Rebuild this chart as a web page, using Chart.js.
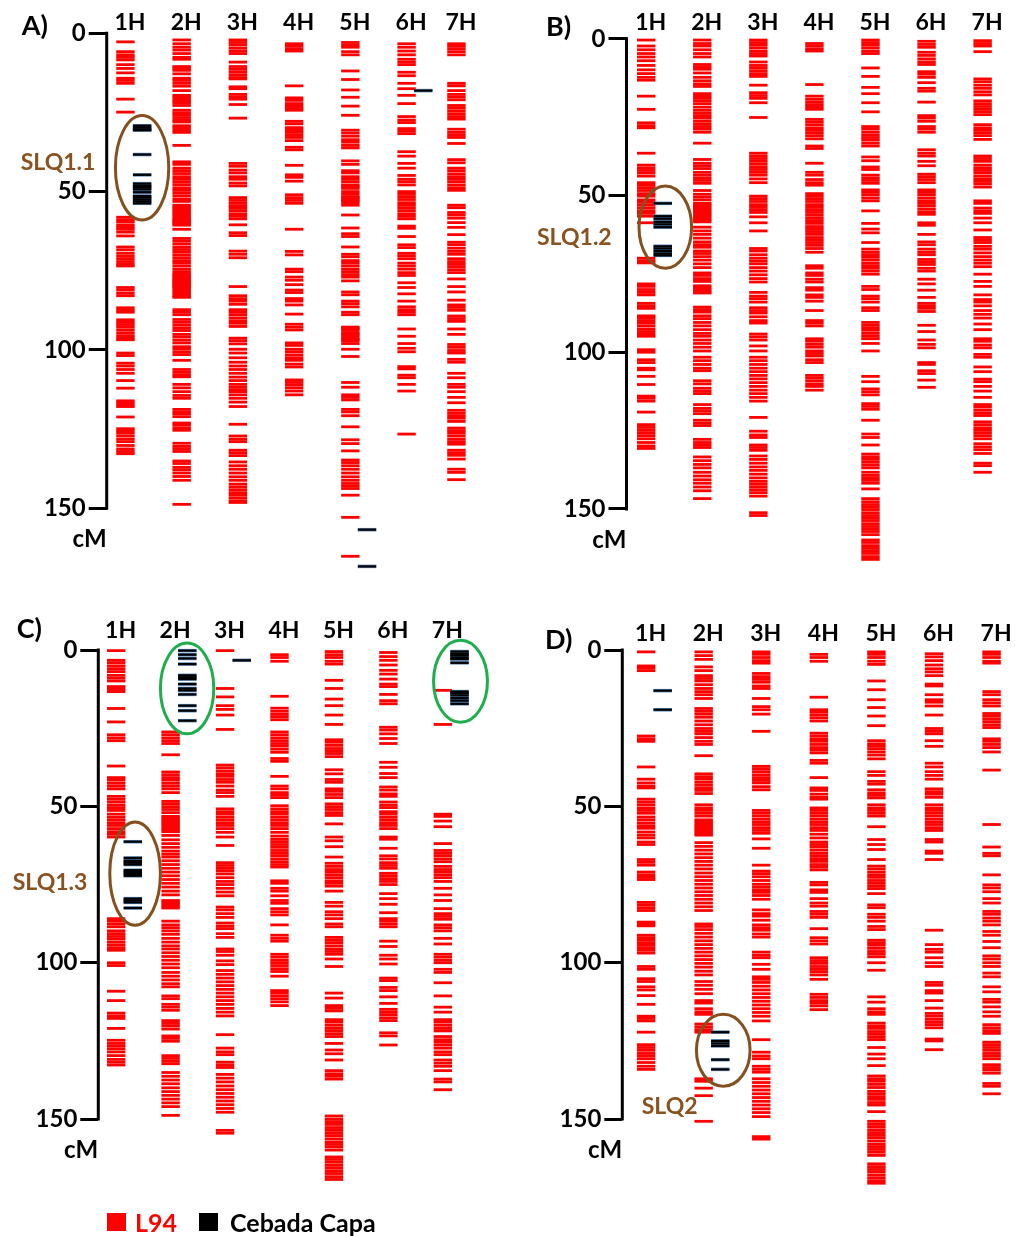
<!DOCTYPE html>
<html>
<head>
<meta charset="utf-8">
<title>Genetic maps L94 × Cebada Capa</title>
<script src="https://cdn.jsdelivr.net/npm/chart.js"></script>
<style>
  html, body { margin: 0; padding: 0; background: #fff; }
  #page { position: relative; width: 1015px; height: 1236px; overflow: hidden; font-family: Lato, "Open Sans", sans-serif; }
  #page canvas { position: absolute; }
  .txt { position: absolute; font-weight: 700; line-height: 1; white-space: nowrap; transform: translateY(-50%); }
  .panel-tag { font-size: 27px; color: #000; }
  .qtl-tag { font-size: 23px; color: #8a5220; }
  .key-box { position: absolute; width: 19px; height: 18px; }
  .key-txt { font-size: 25px; }
</style>
</head>
<body>
<div id="page">
  <div class="txt panel-tag" style="left:21.7px; top:24.4px;">A)</div>
  <div class="txt panel-tag" style="left:546px; top:25px;">B)</div>
  <div class="txt panel-tag" style="left:16.7px; top:627px;">C)</div>
  <div class="txt panel-tag" style="left:545px; top:638px;">D)</div>

  <div class="txt qtl-tag" style="left:20.7px; top:161px;">SLQ1.1</div>
  <div class="txt qtl-tag" style="left:537px; top:235.7px;">SLQ1.2</div>
  <div class="txt qtl-tag" style="left:12.7px; top:881px;">SLQ1.3</div>
  <div class="txt qtl-tag" style="left:641.7px; top:1105px;">SLQ2</div>

  <div class="key-box" style="left:106.7px; top:1213px; background:#ff0000;"></div>
  <div class="txt key-txt" style="left:135px; top:1222px; color:#ff0000;">L94</div>
  <div class="key-box" style="left:199.3px; top:1213px; background:#000;"></div>
  <div class="txt key-txt" style="left:230px; top:1222px; color:#000;">Cebada Capa</div>
</div>

<script>
// ---- chromosome names and axis ticks ----
const chromosomes = ['1H', '2H', '3H', '4H', '5H', '6H', '7H'];
const cmTicks = [0, 50, 100, 150];

// ---- marker positions (cM) carrying the L94 allele / the Cebada Capa allele ----
// Panel A
const A_1H = [2.7,5.8,6.8,7.6,8.4,9.9,11.1,12.5,14.2,14.9,15.8,20.8,24.9,58.1,58.9,59.5,60.5,61.3,61.9,62.8,64.0,67.5,68.4,69.5,70.4,71.2,72.1,73.0,73.5,80.3,81.1,82.1,82.9,86.7,87.5,88.1,90.5,91.3,92.0,92.8,93.7,94.6,95.5,96.2,96.8,101.0,101.8,104.2,105.1,106.2,107.4,109.7,112.1,116.1,116.7,117.4,117.9,121.2,124.9,125.6,126.3,127.2,128.2,129.0,130.2,131.3,132.1,132.8];
const A_1H_capa = [29.2,29.8,30.4,30.6,38.3,44.7,47.5,48.2,48.7,49.3,50.2,51.4,51.9,52.5,53.1,53.7];
const A_2H = [2.1,3.3,4.4,5.3,6.4,7.6,8.2,10.5,11.1,11.7,12.8,14.2,14.9,15.8,16.7,18.1,19.6,20.1,20.8,21.4,21.9,22.8,24.3,25.1,25.7,26.6,27.4,28.0,29.2,29.8,30.6,31.3,35.4,40.6,41.4,42.6,43.4,44.3,45.3,46.1,46.9,47.8,48.8,49.6,50.4,51.3,52.3,53.1,54.3,54.9,55.4,56.0,56.6,57.2,57.8,58.4,58.9,59.3,59.7,60.1,60.6,61.9,64.8,65.6,66.5,67.5,68.3,69.1,70.0,70.9,71.8,72.6,73.5,74.5,75.3,76.1,76.5,77.0,77.5,78.0,78.4,78.8,79.2,79.6,80.0,80.5,81.1,81.7,82.3,82.9,83.4,87.3,88.1,88.9,90.4,91.3,92.2,93.1,93.9,95.1,95.9,96.9,97.8,99.0,99.8,100.7,101.5,103.3,106.2,107.1,107.9,108.5,110.9,112.0,113.2,114.4,115.3,118.8,119.6,120.2,121.1,123.1,123.7,124.6,125.4,129.5,130.5,131.3,132.1,135.1,135.9,137.1,137.9,138.9,140.0,141.2,148.8];
const A_3H = [2.1,2.9,3.7,4.7,5.6,6.4,9.1,10.5,11.4,12.3,13.2,14.0,14.4,16.9,17.5,19.3,20.1,20.8,22.5,26.8,41.1,42.0,43.2,44.1,45.3,46.1,47.3,48.2,51.9,52.8,53.7,54.5,55.2,56.0,57.0,57.8,58.6,60.5,63.0,63.9,68.8,69.8,70.9,80.0,82.9,83.8,84.6,85.6,87.3,88.1,88.9,89.9,90.8,91.6,92.6,96.3,97.1,98.1,99.8,101.0,102.5,103.9,105.1,106.2,107.4,108.6,109.7,110.9,111.8,112.6,113.2,114.2,115.3,116.5,117.9,123.5,127.2,128.2,129.0,131.7,132.5,133.4,135.4,136.6,137.7,138.9,140.1,141.2,142.4,143.3,144.2,145.1,145.9,146.8,147.7,148.2];
const A_4H = [3.3,4.1,4.9,5.6,16.6,20.4,21.2,22.2,23.0,23.7,24.3,27.8,28.6,29.8,30.6,31.3,32.1,32.9,33.9,36.0,36.8,41.7,44.7,45.5,46.7,51.0,51.9,52.8,53.7,61.9,68.9,70.0,74.5,75.3,77.0,78.0,79.4,81.1,81.9,83.8,84.6,85.8,88.7,91.9,92.8,93.7,97.8,98.6,99.8,100.6,101.6,102.5,103.3,104.5,105.4,109.5,110.3,111.1,112.0,113.0,114.2];
const A_5H = [2.9,3.7,4.4,5.8,6.8,11.9,14.6,17.9,20.2,23.0,25.9,30.6,31.5,32.5,33.6,34.4,35.4,36.2,40.3,41.4,43.4,44.1,45.3,46.1,46.9,47.9,48.4,49.0,50.0,50.8,51.6,52.0,52.5,53.0,53.5,54.3,57.4,61.5,63.3,64.2,67.5,69.8,70.6,71.8,72.6,73.5,74.5,75.3,76.2,77.0,78.2,81.7,82.6,84.6,85.4,86.4,88.1,88.9,92.8,93.2,93.6,94.5,95.0,95.5,96.3,96.7,97.1,98.0,99.8,102.1,110.3,111.8,114.2,115.0,115.8,118.8,119.6,120.8,124.3,128.4,129.6,131.9,134.8,135.6,136.6,137.7,138.9,140.1,141.2,142.2,143.0,143.8,145.9,152.9,165.2];
const A_5H_capa = [156.8,168.4];
const A_6H = [3.3,4.4,5.6,6.8,8.2,9.1,9.9,12.3,13.4,15.8,17.5,19.6,22.2,26.3,27.4,28.2,30.1,30.9,31.7,37.4,38.8,41.1,42.6,44.9,46.1,46.9,47.9,50.0,50.8,51.6,52.5,53.5,54.3,55.1,56.0,57.0,57.8,58.6,60.9,61.6,64.2,66.8,67.7,69.5,70.3,71.2,72.6,73.5,74.5,75.6,76.5,78.8,80.3,82.3,84.6,86.4,87.3,88.1,88.9,93.4,95.7,98.0,99.5,100.6,105.3,106.0,108.0,108.8,110.9,113.0,126.6];
const A_6H_capa = [18.1];
const A_7H = [3.3,4.1,4.9,5.8,6.8,15.8,16.6,18.1,19.3,20.1,21.0,22.8,23.6,24.5,25.4,26.3,27.1,30.3,31.3,32.1,32.9,34.8,39.9,40.9,42.6,43.4,44.4,45.3,46.1,46.9,47.9,48.8,49.6,54.3,55.1,56.6,57.4,58.4,59.8,61.3,63.6,66.0,66.8,67.9,68.9,69.8,71.2,72.1,73.0,73.8,74.7,75.6,77.6,80.0,81.7,84.3,85.8,86.6,87.5,89.3,90.1,91.0,93.4,95.1,98.3,99.2,100.2,101.0,103.0,103.9,107.4,108.8,110.9,111.8,113.2,115.0,116.7,119.1,120.0,120.8,121.6,122.6,124.7,125.5,126.3,127.2,128.2,129.0,129.8,131.7,132.5,133.3,134.5,137.7,138.7,141.0];

// Panel B
const B_1H = [0.4,2.3,3.5,4.7,5.8,7.0,8.5,9.9,11.1,12.3,13.2,18.3,22.5,26.8,27.7,28.4,36.5,40.3,41.2,42.0,42.8,43.8,45.9,46.7,47.5,48.4,49.4,50.2,51.4,52.2,53.1,54.0,54.9,55.7,56.6,58.7,70.0,70.8,71.5,78.2,79.0,80.0,80.9,81.7,84.4,85.2,86.0,88.4,89.1,89.9,90.7,91.6,92.6,93.4,94.2,94.9,99.2,100.0,102.4,103.3,105.1,105.6,107.7,110.3,114.0,114.7,115.6,119.1,123.1,124.0,124.9,125.7,126.6,127.6,128.8,129.9,130.7];
const B_1H_capa = [52.5,56.6,57.4,58.4,59.2,60.1,66.2,66.9,67.7,68.5,69.1];
const B_2H = [0.4,1.5,2.3,3.5,4.7,5.8,8.2,9.0,9.7,10.9,12.3,13.4,14.4,15.2,17.5,18.3,19.0,19.8,20.7,21.8,22.8,23.7,24.5,25.3,26.3,27.2,28.0,28.8,29.8,33.3,38.5,39.7,40.5,41.4,42.6,43.5,44.4,45.2,46.1,48.4,49.6,50.5,51.4,52.5,53.1,53.7,54.3,54.9,55.5,56.0,56.6,57.2,57.8,58.4,60.1,61.3,62.4,63.6,64.8,65.7,66.5,67.7,68.5,69.5,70.6,71.8,73.0,74.7,75.5,76.5,77.4,78.8,79.4,80.0,80.6,81.1,85.6,86.4,87.2,88.4,89.3,90.5,91.6,92.8,94.0,94.9,96.1,97.2,98.4,99.6,101.6,102.7,103.9,105.1,105.9,109.1,110.1,111.5,112.4,113.2,116.7,117.9,118.7,119.6,121.7,122.6,123.4,127.8,128.8,129.6,130.4,133.4,134.6,135.8,136.9,138.3,139.5,140.7,141.8,143.0,144.2,146.7];
const B_3H = [0.4,1.2,2.0,2.9,3.9,4.7,5.5,7.4,8.5,9.3,10.2,11.1,12.0,14.8,17.2,18.1,19.0,20.4,25.1,36.5,37.4,38.2,39.1,40.0,40.9,41.7,42.6,43.5,44.7,45.9,50.2,51.0,51.9,52.9,53.7,54.5,55.4,56.8,58.7,61.3,66.9,67.7,68.9,70.0,70.9,71.8,73.0,74.1,75.3,76.5,77.6,80.9,82.1,82.9,84.0,85.8,86.7,87.5,88.7,89.9,90.7,94.2,95.1,96.1,98.0,99.6,101.6,102.7,103.9,105.1,106.2,107.4,108.5,109.7,110.9,112.1,113.2,114.4,115.6,120.8,125.2,126.4,127.2,129.6,130.4,131.3,133.1,134.2,135.4,136.6,137.7,138.9,140.1,141.2,142.1,143.0,143.9,144.8,145.9,151.2,152.1];
const B_4H = [1.5,2.3,3.2,3.9,14.6,18.3,19.3,20.2,21.0,21.8,22.5,25.7,26.5,27.4,28.4,29.2,30.0,30.9,31.9,34.2,35.0,39.7,42.6,43.5,44.9,45.9,46.7,49.4,50.2,51.0,51.9,52.9,53.7,54.5,55.4,56.3,57.2,58.0,58.9,59.9,60.7,61.5,62.4,63.4,64.2,65.0,65.9,66.9,68.1,72.4,73.2,74.7,75.5,76.7,77.6,79.4,80.2,81.7,82.5,83.7,86.7,89.9,90.7,91.6,95.7,96.5,97.5,98.4,99.6,100.4,101.2,102.4,103.3,107.4,108.2,109.1,110.1,110.9,112.1];
const B_5H = [0.4,1.2,2.0,2.9,3.9,4.7,9.3,12.0,15.5,17.5,20.4,23.3,28.0,28.8,29.8,30.7,31.5,32.3,33.3,34.2,37.7,38.9,40.9,41.7,43.5,44.4,45.2,46.1,48.2,49.0,49.8,50.8,51.7,54.9,58.9,60.7,61.9,65.0,67.1,68.1,68.9,69.7,70.6,71.6,72.4,73.2,74.1,75.1,79.0,80.0,82.1,82.9,84.0,85.8,86.7,90.5,91.4,92.2,93.0,94.0,94.9,95.7,97.2,99.6,107.7,109.4,111.7,112.6,113.6,116.4,117.3,118.2,121.7,126.1,127.2,129.6,132.5,133.4,134.2,135.1,136.0,136.9,138.3,139.3,140.1,140.9,141.8,143.6,146.7,147.7,148.6,149.4,150.2,151.2,152.1,152.9,153.7,154.7,155.6,156.4,157.2,158.2,159.9,160.7,161.7,162.6,163.4,164.2,165.2,166.1];
const B_6H = [0.8,1.8,2.7,4.3,5.3,6.4,7.4,8.2,10.5,11.3,12.3,14.0,15.8,16.7,20.2,24.5,25.3,26.3,28.0,28.8,29.8,35.4,36.5,37.4,39.1,40.5,43.2,44.0,44.9,45.9,48.2,49.0,49.8,50.8,51.7,52.5,53.3,54.3,55.2,56.0,58.7,59.5,62.4,64.8,65.7,67.1,68.1,68.9,70.4,71.2,72.0,73.2,74.1,76.7,78.2,80.2,82.5,84.4,85.2,86.0,87.0,91.4,93.4,96.1,97.5,98.6,103.3,103.9,105.9,106.8,108.9,111.2];
const B_7H = [0.6,1.5,2.3,4.1,12.8,13.7,14.8,15.8,16.9,17.9,19.8,20.7,21.6,22.5,23.3,24.2,27.4,28.4,29.2,30.0,30.9,32.1,37.4,38.2,39.1,40.3,41.2,42.0,42.8,43.8,44.7,45.5,46.3,47.3,51.7,52.5,54.0,54.9,55.7,57.2,58.7,61.0,63.4,64.2,65.0,66.2,67.1,68.3,69.5,70.6,71.6,72.7,75.1,77.4,79.0,81.7,83.2,84.0,85.2,86.7,87.9,89.1,91.0,92.8,95.7,96.5,97.7,98.6,100.7,101.6,104.7,106.2,108.6,109.4,110.9,112.4,114.4,116.7,117.5,118.5,119.4,120.2,122.2,123.1,124.1,124.9,125.7,126.6,127.6,129.2,130.2,131.1,132.3,135.4,136.2,138.3];

// Panel C
const C_1H = [0.2,3.3,4.1,5.1,6.0,6.9,8.1,9.0,9.9,11.7,12.6,13.3,18.7,23.0,27.1,28.1,29.0,37.1,40.8,41.6,42.6,43.5,44.4,46.8,47.7,48.6,49.6,50.4,51.3,52.5,53.5,54.4,55.3,56.1,57.1,58.1,58.9,59.8,85.9,86.7,87.6,88.5,89.8,90.7,91.6,92.4,93.4,94.3,95.2,96.0,100.0,100.9,109.1,112.1,116.1,117.0,117.8,121.0,124.8,125.8,126.6,127.5,128.5,129.7,130.9,131.8,132.7];
const C_1H_capa = [61.3,66.5,67.4,68.0,68.6,70.4,71.0,71.6,72.2,79.5,80.1,80.7,82.5];
const C_2H = [26.2,27.1,28.1,29.0,29.9,33.5,39.0,39.9,40.8,41.6,42.6,43.5,44.4,45.6,48.4,49.2,50.1,51.0,52.0,53.2,53.8,54.4,55.0,55.6,56.2,56.9,57.5,58.1,59.3,60.7,61.9,63.1,64.3,65.3,66.2,67.4,68.6,69.8,71.0,72.2,73.4,74.6,75.8,77.1,78.3,80.1,80.7,81.3,81.9,82.5,86.7,87.9,88.8,89.8,90.9,92.2,93.4,94.6,95.6,96.8,98.0,99.2,100.4,101.6,103.1,104.3,105.5,106.7,107.7,110.6,111.5,113.3,114.2,115.2,118.5,119.4,120.2,121.2,123.4,124.2,125.1,129.7,130.6,131.5,132.3,135.1,136.3,137.5,138.7,140.0,141.2,142.4,143.6,144.8,146.0,148.8];
const C_2H_capa = [0.2,1.5,2.7,4.5,8.1,8.7,9.3,10.9,12.3,12.9,14.2,17.8,19.4,22.6];
const C_3H = [0.2,12.3,15.0,17.8,19.0,20.8,25.4,36.8,37.7,38.7,39.6,40.4,41.4,42.3,43.5,44.8,45.6,46.8,50.8,51.7,52.5,53.5,54.4,55.3,56.1,57.1,58.3,59.8,62.5,68.0,68.9,69.8,70.6,71.6,72.8,74.0,75.0,76.2,77.4,78.6,82.2,83.1,84.3,85.5,87.3,88.3,89.1,90.7,91.9,95.6,96.4,97.6,99.4,100.6,102.5,103.7,104.9,106.1,107.3,108.5,109.7,110.9,112.1,113.3,114.6,115.8,117.0,123.0,127.3,128.5,129.4,131.8,132.7,133.5,135.7,136.9,138.1,139.4,140.6,141.8,143.0,144.2,145.4,146.6,147.8,153.6,154.5];
const C_3H_capa = [3.3];
const C_4H = [1.5,2.4,3.6,14.8,18.6,19.6,20.6,21.4,22.3,26.2,27.1,28.1,29.0,29.9,30.7,31.7,32.7,34.7,35.6,40.4,43.5,44.4,45.6,46.4,47.2,49.8,50.8,51.7,52.5,53.5,54.4,55.3,56.1,57.1,58.3,59.5,60.5,61.3,62.2,63.1,64.1,65.0,65.8,66.8,67.7,68.6,69.4,73.8,74.6,76.2,77.1,78.6,80.1,81.0,82.7,83.7,84.7,87.9,91.2,92.2,93.1,97.3,98.2,99.2,100.0,100.9,101.9,102.8,104.3,108.9,109.7,110.6,111.5,112.5,113.7];
const C_5H = [0.5,1.5,2.4,3.6,4.5,9.7,12.3,15.7,17.8,20.8,23.8,28.7,29.5,30.5,31.5,32.3,33.1,34.1,38.3,39.6,41.4,42.3,44.4,45.2,46.2,47.2,49.2,50.1,51.0,52.0,52.9,55.6,59.8,61.0,62.9,66.2,68.2,69.2,70.2,71.0,71.9,72.8,73.8,74.6,75.5,77.1,80.7,81.9,83.7,84.7,85.9,87.6,88.5,91.9,92.8,93.6,94.6,95.6,96.4,97.3,98.8,101.2,109.7,111.3,113.7,114.6,115.4,118.2,119.0,120.0,121.0,121.8,122.7,123.6,125.8,127.9,129.1,131.1,134.5,135.5,136.3,137.2,149.0,150.0,150.8,151.7,152.7,153.6,154.5,155.3,156.3,157.3,158.1,158.9,159.9,162.1,162.9,163.8,164.8,165.7,166.6,167.4,168.4,169.3];
const C_6H = [0.8,2.1,3.3,4.8,6.5,7.7,9.3,10.9,11.7,14.2,16.2,17.2,24.7,25.6,26.8,28.3,29.9,35.9,37.5,39.5,40.8,43.8,44.8,46.0,46.8,48.6,49.6,50.4,51.7,52.5,53.5,54.4,55.3,56.1,57.1,59.8,60.5,63.4,65.8,66.8,68.0,68.9,69.8,71.4,72.2,73.1,74.0,75.0,77.9,79.5,81.3,84.0,85.9,86.7,87.6,88.5,93.1,94.8,97.6,98.8,100.4,104.9,105.7,107.9,108.9,110.9,113.0,114.9,115.8,116.6,117.6,118.5,122.4,123.4,126.3];
const C_7H = [12.9,23.8,52.5,53.2,54.7,56.5,61.9,64.1,65.0,65.8,66.8,67.7,69.2,70.2,71.0,71.9,72.8,74.0,76.2,78.3,80.1,82.7,84.3,85.2,86.1,87.9,88.8,89.8,92.2,94.0,97.3,98.2,99.2,100.0,102.1,103.1,106.4,110.6,114.2,115.8,118.2,119.0,120.0,121.0,121.8,123.6,124.6,125.4,126.3,127.3,128.5,129.4,131.1,132.1,133.1,134.5,137.2,138.1,140.6];
const C_7H_capa = [0.5,1.2,1.7,2.4,2.9,4.1,13.3,13.8,14.5,15.4,16.2,17.2];

// Panel D
const D_1H = [0.6,5.1,5.8,6.6,27.5,28.4,29.2,37.4,41.3,42.5,43.5,44.1,47.7,48.6,49.5,50.5,51.3,52.2,53.4,54.3,55.3,56.2,57.0,58.2,59.2,60.1,61.4,62.2,67.0,67.9,68.8,71.0,71.9,72.7,73.4,80.7,81.5,82.4,83.3,87.0,87.6,88.2,91.2,92.0,92.8,93.6,94.4,95.2,96.0,96.9,101.2,102.1,105.1,106.0,107.7,108.7,110.5,113.3,117.1,117.8,118.6,122.2,126.2,127.1,128.0,129.0,129.8,130.7,131.9,133.1,134.1];
const D_1H_capa = [13.0,19.1];
const D_2H = [0.6,1.8,3.0,5.4,6.6,8.2,9.1,9.9,11.1,12.3,13.3,14.3,15.5,18.7,19.6,20.5,21.5,22.7,23.9,25.1,26.0,26.8,28.0,29.2,30.2,33.8,39.6,40.5,41.3,42.3,43.2,44.1,44.9,45.9,49.5,50.5,51.3,52.2,53.1,54.3,54.9,55.6,56.2,56.8,57.4,58.0,58.6,59.2,61.6,62.8,64.0,65.2,66.4,67.6,68.8,70.0,71.3,72.5,73.7,74.9,76.1,77.3,78.5,79.7,80.9,82.1,83.3,87.6,88.4,89.4,90.6,91.8,93.0,94.2,95.4,96.6,97.8,99.0,100.2,101.4,102.7,103.9,106.0,107.2,108.5,109.9,112.1,112.9,114.7,115.7,116.5,119.6,120.5,121.4,122.2,137.1,137.9,140.1,142.5,150.7];
const D_2H_capa = [122.2,125.0,125.8,126.6,131.0,134.1];
const D_3H = [0.6,1.4,2.4,3.4,4.2,7.5,8.5,9.4,10.3,11.5,12.3,15.5,18.1,19.1,20.5,26.0,37.2,38.0,38.9,39.9,40.8,41.7,42.5,43.7,44.7,51.3,52.2,53.1,54.1,55.0,55.8,56.8,57.7,58.6,60.4,63.4,68.8,70.7,71.5,72.5,73.7,74.9,75.8,76.7,77.5,78.5,79.7,83.1,84.3,85.1,86.4,87.9,88.8,89.6,90.8,91.8,96.6,97.6,98.4,100.5,102.1,104.5,105.3,106.3,107.5,108.7,109.9,111.1,112.3,113.5,114.7,115.9,117.1,118.6,124.6,128.6,129.8,130.7,133.1,134.1,135.0,137.1,138.3,139.5,140.7,141.9,143.1,144.3,145.5,146.7,147.9,149.2,155.6,156.4];
const D_4H = [1.4,2.4,3.6,15.1,19.1,19.9,20.8,21.7,22.7,26.6,27.5,28.4,29.2,30.2,31.2,32.0,32.9,35.3,36.2,40.8,44.1,44.9,46.1,47.1,47.7,50.5,51.3,52.2,53.1,54.1,55.0,55.8,56.8,57.7,58.9,60.1,61.4,62.2,63.0,64.0,65.0,65.8,66.7,67.6,68.6,69.4,70.3,74.3,75.1,76.7,77.5,79.5,80.9,81.9,83.6,84.5,85.5,89.1,92.0,93.0,94.0,98.4,99.3,100.2,101.2,102.1,102.9,103.9,105.3,110.1,111.1,112.1,112.9,113.8,115.0];
const D_5H = [0.6,1.4,2.4,3.6,4.6,9.9,12.7,15.9,18.4,21.1,24.2,29.0,30.0,30.8,31.6,32.6,33.6,34.8,38.9,40.1,42.0,42.9,44.7,45.7,46.5,47.3,49.5,50.5,51.3,52.2,53.1,56.5,60.6,62.2,63.8,67.0,69.1,70.0,71.0,71.9,72.7,73.7,74.6,75.5,76.3,77.9,81.5,82.4,84.5,85.5,86.7,88.4,89.4,92.8,93.6,94.4,95.4,96.4,97.2,98.1,100.0,102.4,110.9,112.6,114.7,115.7,116.5,119.3,120.2,121.0,122.0,122.9,123.8,124.6,127.1,129.2,130.7,132.9,136.2,137.1,137.9,138.9,139.9,141.1,141.9,142.8,143.7,144.7,145.5,147.6,150.7,151.6,152.4,153.4,154.3,155.2,156.0,157.0,158.0,158.8,159.7,160.6,161.6,164.3,165.2,166.1,166.9,167.9,168.8,169.7,170.5];
const D_6H = [1.2,2.2,3.4,4.8,6.0,7.0,8.2,10.9,11.5,14.3,15.9,16.7,17.9,20.8,25.1,26.0,26.8,29.0,30.8,36.2,37.4,38.9,40.1,41.3,44.4,45.3,46.1,47.1,49.5,50.5,51.3,52.2,53.1,54.1,55.0,55.8,56.8,57.7,60.6,61.4,64.3,65.0,67.0,89.6,94.2,95.7,96.6,98.4,100.0,101.2,106.3,107.2,108.9,109.7,112.1,114.5,116.2,117.1,118.1,119.0,119.8,120.8,124.4,125.0,127.8];
const D_7H = [0.6,1.4,2.4,3.6,4.2,13.3,14.3,15.9,16.9,17.9,20.3,21.1,22.0,22.9,23.9,24.8,28.4,29.2,30.2,31.2,32.6,38.4,55.8,63.0,65.0,65.8,71.9,75.1,76.1,77.3,79.5,80.9,83.6,84.5,85.7,86.7,87.9,90.0,91.2,93.2,95.2,97.8,98.8,100.0,101.2,103.3,104.5,107.7,109.3,111.7,112.6,114.1,115.7,117.1,119.8,120.8,121.7,122.6,125.4,126.2,127.1,128.0,129.0,129.8,130.7,132.6,133.5,134.3,135.3,138.6,139.5,141.9];

// ---- map tables per panel, one entry per chromosome ----
const panels = {
  A: { l94: [A_1H, A_2H, A_3H, A_4H, A_5H, A_6H, A_7H], capa: [A_1H_capa, [], [], [], A_5H_capa, A_6H_capa, []] },
  B: { l94: [B_1H, B_2H, B_3H, B_4H, B_5H, B_6H, B_7H], capa: [B_1H_capa, [], [], [], [], [], []] },
  C: { l94: [C_1H, C_2H, C_3H, C_4H, C_5H, C_6H, C_7H], capa: [C_1H_capa, C_2H_capa, C_3H_capa, [], [], [], C_7H_capa] },
  D: { l94: [D_1H, D_2H, D_3H, D_4H, D_5H, D_6H, D_7H], capa: [D_1H_capa, D_2H_capa, [], [], [], [], []] }
};

// ---- page layout of the four maps ----
const CM_MAX = 175;          // room below 150 cM for the long 5H maps
const CAPA_OFFSET_PX = 17;   // Cebada Capa markers sit in a lane right of the L94 lane
const MARK_HALF = 9.2;       // half length of a marker tick
const MARK_W = 2.8;          // L94 marker line thickness
const CAPA_W = 2.2;          // Cebada Capa marker line thickness
const BROWN = '#84501f';
const GREEN = '#1fae4b';

const frames = {
  A: { left: 0, top: 0, width: 510, height: 600, axisX: 106.7, y0: 33.3, pxPerCM: 3.1693,
       lane1: 125.8, laneGap: 57.34, slots: [1, 2, 3, 4, 5, 6, 6.886], right: 505, labelPad: -1.2,
       rings: [{ cx: 1.296, cy: 42.5, rx: 0.474, ry: 16.5, color: BROWN }] },
  B: { left: 515, top: 0, width: 500, height: 600, axisX: 626.5, y0: 38.8, pxPerCM: 3.1693,
       lane1: 646.7, laneGap: 57.52, slots: [1, 2, 3, 4, 5, 6, 7], right: 1012, labelPad: 5.1,
       rings: [{ cx: 1.341, cy: 60.1, rx: 0.469, ry: 13.1, color: BROWN }] },
  C: { left: 0, top: 600, width: 510, height: 610, axisX: 98.3, y0: 650, pxPerCM: 3.16,
       lane1: 116.5, laneGap: 55.5, slots: [1, 2, 3, 4, 5, 6, 7], right: 505, labelPad: 7.9,
       rings: [{ cx: 1.348, cy: 71.5, rx: 0.465, ry: 16.5, color: BROWN },
               { cx: 2.303, cy: 12.3, rx: 0.49, ry: 14.5, color: GREEN },
               { cx: 7.324, cy: 10.0, rx: 0.495, ry: 13.1, color: GREEN }] },
  D: { left: 515, top: 600, width: 500, height: 610, axisX: 622.3, y0: 650, pxPerCM: 3.1667,
       lane1: 646.7, laneGap: 59.05, slots: [1, 2, 3, 4, 5, 6, 7], right: 1012, labelPad: 5.0,
       rings: [{ cx: 2.34, cy: 128.0, rx: 0.466, ry: 11.5, color: BROWN }] }
};

// vertical cM axis from 0 to 150 plus the "cM" caption under it
const cmAxisPlugin = {
  id: 'cmAxis',
  afterDraw(chart) {
    const y = chart.scales.y, ctx = chart.ctx;
    const x = chart.chartArea.left;
    const top = y.getPixelForValue(cmTicks[0]);
    const bottom = y.getPixelForValue(cmTicks[cmTicks.length - 1]);
    ctx.save();
    ctx.strokeStyle = '#000';
    ctx.lineWidth = 3;
    ctx.beginPath();
    ctx.moveTo(x, top - 1.5);
    ctx.lineTo(x, bottom + 1.5);
    ctx.stroke();
    ctx.fillStyle = '#000';
    ctx.font = 'bold 24px Lato, "Open Sans", sans-serif';
    ctx.textAlign = 'right';
    ctx.textBaseline = 'middle';
    ctx.fillText('cM', x, bottom + 31);
    ctx.restore();
  }
};

// QTL rings drawn in data space
const ringPlugin = {
  id: 'qtlRings',
  afterDatasetsDraw(chart, args, opts) {
    const xs = chart.scales.x, ys = chart.scales.y, ctx = chart.ctx;
    ctx.save();
    (opts.rings || []).forEach(r => {
      const cx = xs.getPixelForValue(r.cx), cy = ys.getPixelForValue(r.cy);
      const rx = Math.abs(xs.getPixelForValue(r.cx + r.rx) - cx);
      const ry = Math.abs(ys.getPixelForValue(r.cy + r.ry) - cy);
      ctx.strokeStyle = r.color;
      ctx.lineWidth = 3;
      ctx.beginPath();
      ctx.ellipse(cx, cy, rx, ry, 0, 0, Math.PI * 2);
      ctx.stroke();
    });
    ctx.restore();
  }
};

function drawMap(key) {
  const panel = panels[key], f = frames[key];
  const page = document.getElementById('page');
  const canvas = document.createElement('canvas');
  canvas.width = f.width;
  canvas.height = f.height;
  canvas.style.left = f.left + 'px';
  canvas.style.top = f.top + 'px';
  page.insertBefore(canvas, page.firstChild);

  const yAxisW = f.axisX - f.left;
  const xAxisH = f.y0 - f.top;
  const bottomPx = f.y0 + CM_MAX * f.pxPerCM;
  const padBottom = f.top + f.height - bottomPx;
  const padRight = f.left + f.width - f.right;
  const xMin = 1 - (f.lane1 - f.axisX) / f.laneGap;
  const xMax = 1 + (f.right - f.lane1) / f.laneGap;
  const capaShift = CAPA_OFFSET_PX / f.laneGap;

  const l94Pts = [], capaPts = [];
  panel.l94.forEach((list, i) => list.forEach(cm => l94Pts.push({ x: f.slots[i], y: cm })));
  panel.capa.forEach((list, i) => list.forEach(cm => capaPts.push({ x: f.slots[i] + capaShift, y: cm })));

  const markStyle = (color, width) => ({
    pointStyle: 'line', pointRadius: MARK_HALF, pointBorderWidth: width,
    pointBorderColor: color, pointBackgroundColor: color, showLine: false, clip: false
  });

  new Chart(canvas, {
    type: 'scatter',
    data: {
      datasets: [
        Object.assign({ label: 'Cebada Capa', data: capaPts }, markStyle('#000000', CAPA_W)),
        Object.assign({ label: 'Cebada Capa edge', data: capaPts }, markStyle('#4f83b8', CAPA_W + 1.3)),
        Object.assign({ label: 'L94', data: l94Pts }, markStyle('#ff0000', MARK_W))
      ]
    },
    options: {
      responsive: false,
      animation: false,
      devicePixelRatio: 1,
      events: [],
      layout: { padding: { left: 0, top: 0, right: padRight, bottom: padBottom } },
      plugins: {
        legend: { display: false },
        tooltip: { enabled: false },
        qtlRings: { rings: f.rings }
      },
      scales: {
        x: {
          type: 'linear', position: 'top', min: xMin, max: xMax,
          afterBuildTicks: s => { s.ticks = f.slots.map(v => ({ value: v })); },
          afterFit: s => { s.height = xAxisH; s.paddingLeft = 0; s.paddingRight = 0; },
          ticks: {
            autoSkip: false, maxRotation: 0, minRotation: 0,
            padding: f.labelPad, labelOffset: 4.5, color: '#000',
            font: { family: 'Lato', weight: 'bold', size: 23, lineHeight: 1 },
            callback: (v, i) => chromosomes[i]
          },
          grid: { display: false, drawTicks: false },
          border: { display: false }
        },
        y: {
          type: 'linear', position: 'left', reverse: true, min: 0, max: CM_MAX,
          afterBuildTicks: s => { s.ticks = cmTicks.map(v => ({ value: v })); },
          afterFit: s => { s.width = yAxisW; s.paddingTop = 0; s.paddingBottom = 0; },
          ticks: { padding: 3, color: '#000', font: { family: 'Lato', weight: 'bold', size: 24 } },
          grid: { drawOnChartArea: false, drawTicks: true, tickLength: 18, tickWidth: 3, tickColor: '#000', color: '#000' },
          border: { display: false }
        }
      }
    },
    plugins: [cmAxisPlugin, ringPlugin]
  });
}

['A', 'B', 'C', 'D'].forEach(drawMap);
</script>
</body>
</html>
